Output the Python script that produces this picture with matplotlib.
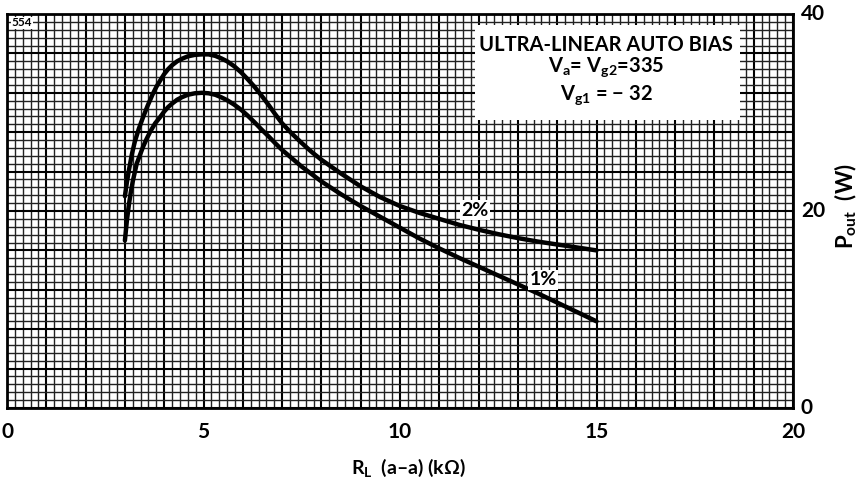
import matplotlib
matplotlib.use("Agg")
import matplotlib.pyplot as plt
from matplotlib.patches import Rectangle
from matplotlib.ticker import MultipleLocator

plt.rcParams['font.family'] = ['Lato', 'DejaVu Sans']
plt.rcParams['mathtext.fontset'] = 'custom'
plt.rcParams['mathtext.rm'] = 'Lato:bold'
plt.rcParams['mathtext.it'] = 'Lato:bold'
plt.rcParams['mathtext.bf'] = 'Lato:bold'

# R_L (kOhm) and P_out (W)
rl_2pct = [3.0, 3.05, 3.1, 3.18, 3.25, 3.35, 3.46, 3.58, 3.7, 3.8, 3.89, 4.0, 4.1,
           4.2, 4.33, 4.45, 4.6, 4.78, 4.96, 5.13, 5.3, 5.45, 5.6, 5.78, 5.95, 6.12,
           6.3, 6.47, 6.65, 6.82, 7.0, 7.25, 7.5, 7.75, 8.0, 8.5, 9.0, 9.5, 10.0,
           10.5, 11.0, 11.5, 12.0, 12.5, 13.0, 13.5, 14.0, 14.5, 15.0]
p_2pct = [21.5, 22.9, 24.1, 25.8, 27.0, 28.3, 29.5, 30.7, 31.8, 32.6, 33.2, 33.9, 34.4,
          34.8, 35.2, 35.45, 35.7, 35.85, 35.9, 35.9, 35.75, 35.5, 35.2, 34.7, 34.1, 33.4,
          32.6, 31.75, 30.8, 29.85, 28.9, 27.85, 26.9, 26.0, 25.2, 23.8, 22.5, 21.4, 20.5,
          19.8, 19.2, 18.6, 18.1, 17.65, 17.25, 16.9, 16.6, 16.3, 16.0]

rl_1pct = [3.0, 3.05, 3.1, 3.15, 3.2, 3.3, 3.46, 3.55, 3.65, 3.77, 3.89, 4.0, 4.1,
           4.2, 4.33, 4.45, 4.6, 4.78, 4.96, 5.13, 5.3, 5.45, 5.6, 5.78, 5.95, 6.12,
           6.3, 6.47, 6.65, 6.82, 7.0, 7.25, 7.5, 7.75, 8.0, 8.5, 9.0, 9.5, 10.0,
           10.5, 11.0, 11.5, 12.0, 12.5, 13.0, 13.5, 14.0, 14.5, 15.0]
p_1pct = [17.0, 19.0, 20.6, 21.9, 23.0, 24.8, 26.5, 27.3, 28.1, 28.9, 29.5, 30.1, 30.55,
          30.9, 31.3, 31.55, 31.8, 31.95, 32.0, 31.95, 31.8, 31.55, 31.25, 30.8, 30.3, 29.7,
          29.0, 28.3, 27.6, 26.9, 26.2, 25.35, 24.5, 23.75, 23.0, 21.7, 20.5, 19.4, 18.3,
          17.2, 16.2, 15.25, 14.35, 13.45, 12.55, 11.65, 10.7, 9.75, 8.8]

x_ticks = [0, 5, 10, 15, 20]
y_ticks = [0, 20, 40]

fig = plt.figure(figsize=(8.66, 4.87), dpi=100)
ax = fig.add_axes([7/866, 1 - 408/487, (793 - 7)/866, (408 - 14)/487])
ax.set_xlim(0, 20)
ax.set_ylim(0, 40)

# graph paper grid
ax.xaxis.set_major_locator(MultipleLocator(1))
ax.xaxis.set_minor_locator(MultipleLocator(0.2))
ax.yaxis.set_major_locator(MultipleLocator(4))
ax.yaxis.set_minor_locator(MultipleLocator(0.8))
ax.set_axisbelow(True)
ax.grid(which='minor', color='#222222', linewidth=1.0)
ax.grid(which='major', color='black', linewidth=1.5)
ax.tick_params(which='both', length=0)
ax.set_xticklabels([])
ax.set_yticklabels([])

for s in ax.spines.values():
    s.set_linewidth(2.0)
    s.set_color('black')

# tick labels
for xv in x_ticks:
    ax.text(xv, -1.4, str(xv), ha='center', va='top', fontsize=15,
            fontweight='bold', clip_on=False)
for yv in y_ticks:
    ax.text(20.2, yv, str(yv), ha='left', va='center', fontsize=15,
            fontweight='bold', clip_on=False)

ax.text(10.2, -5.0, r'R$_\mathrm{L}$  (a–a) (kΩ)', ha='center', va='top',
        fontsize=14, fontweight='bold', clip_on=False)
ax.text(21.35, 20.5, r'P$_\mathrm{out}$  (W)', ha='center', va='center',
        rotation=90, fontsize=16, fontweight='bold', clip_on=False)

# curves
ax.plot(rl_2pct, p_2pct, color='black', linewidth=3.2, zorder=3,
        solid_capstyle='round', solid_joinstyle='round')
ax.plot(rl_1pct, p_1pct, color='black', linewidth=3.2, zorder=3,
        solid_capstyle='round', solid_joinstyle='round')

# annotation box
ax.add_patch(Rectangle((11.9, 29.2), 6.75, 9.7, facecolor='white',
                       edgecolor='none', zorder=2))
ax.text(15.25, 36.9, 'ULTRA-LINEAR AUTO BIAS', ha='center', va='center',
        fontsize=14.5, fontweight='bold', zorder=4)
ax.text(15.25, 34.6, r'V$_\mathrm{a}$= V$_\mathrm{g2}$=335', ha='center',
        va='center', fontsize=14.5, fontweight='bold', zorder=4)
ax.text(15.25, 31.8, r'V$_\mathrm{g1}$ = − 32', ha='center',
        va='center', fontsize=14.5, fontweight='bold', zorder=4)

# curve labels
ax.text(11.9, 20.1, '2%', ha='center', va='center', fontsize=14, fontweight='bold',
        zorder=4, bbox=dict(facecolor='white', edgecolor='none', pad=1.0))
ax.text(13.65, 13.0, '1%', ha='center', va='center', fontsize=14, fontweight='bold',
        zorder=4, bbox=dict(facecolor='white', edgecolor='none', pad=1.0))

ax.text(0.12, 39.1, '554', ha='left', va='center', fontsize=8.5, fontweight='bold',
        zorder=4, bbox=dict(facecolor='white', edgecolor='none', pad=0.3))

fig.savefig('out.png', dpi=100)
